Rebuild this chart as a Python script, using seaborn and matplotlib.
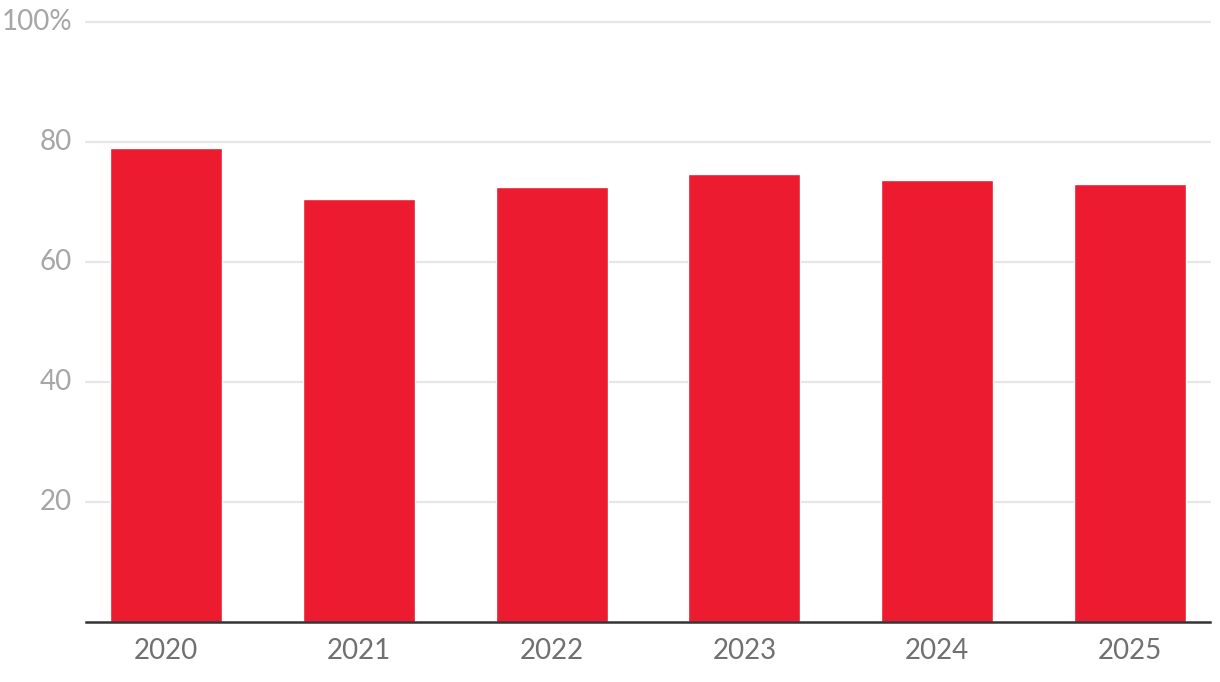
import matplotlib
matplotlib.use("Agg")
import matplotlib.pyplot as plt
import seaborn as sns
import pandas as pd

years = ["2020", "2021", "2022", "2023", "2024", "2025"]
values = [78.9, 70.4, 72.4, 74.7, 73.6, 72.9]
y_ticks = [20, 40, 60, 80, 100]
y_tick_labels = ["20", "40", "60", "80", "100%"]

sns.set_theme(style="white")
plt.rcParams["font.family"] = ["Lato", "DejaVu Sans"]

df = pd.DataFrame({"year": years, "value": values})

W, H = 1220, 682
fig = plt.figure(figsize=(W / 100, H / 100), dpi=100)
ax = fig.add_axes([86 / W, (H - 621.5) / H, (1210 - 86) / W, (621.5 - 22) / H])

sns.barplot(data=df, x="year", y="value", color="#ed1b2f", saturation=1,
            width=0.58, ax=ax, zorder=3)

ax.set_ylim(0, 100)
ax.set_xlim(-0.415, 5.415)
ax.set_yticks(y_ticks)
ax.set_yticklabels(y_tick_labels)
for y in y_ticks:
    ax.axhline(y, color="#e6e6e6", lw=1.6, zorder=1, clip_on=False)

for s in ["top", "right", "left"]:
    ax.spines[s].set_visible(False)
ax.spines["bottom"].set_color("#333333")
ax.spines["bottom"].set_linewidth(1.8)
ax.spines["bottom"].set_zorder(5)

ax.set_xlabel("")
ax.set_ylabel("")
ax.tick_params(axis="y", length=0, pad=10, labelsize=20, labelcolor="#a6a6a6")
ax.tick_params(axis="x", length=0, pad=12, labelsize=20, labelcolor="#707070")
for lbl in ax.get_yticklabels():
    lbl.set_verticalalignment("center")

fig.savefig("out.png", dpi=100, facecolor="white")
